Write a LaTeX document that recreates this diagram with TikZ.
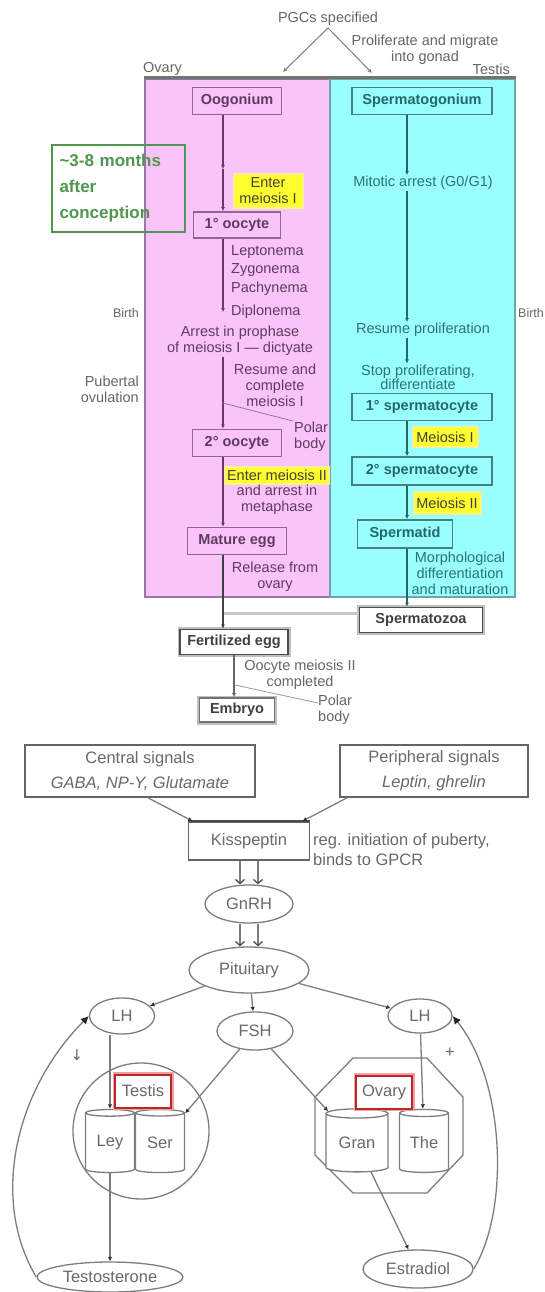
\documentclass[tikz,border=0pt]{standalone}
\usepackage{fontspec}
\setmainfont{Liberation Sans}
\newfontfamily\symfont{DejaVu Sans}
\usetikzlibrary{arrows.meta,shapes.geometric}

\definecolor{pinkbg}{RGB}{250,195,250}
\definecolor{cyanbg}{RGB}{153,255,255}
\definecolor{pinkedge}{RGB}{150,120,160}
\definecolor{cyanedge}{RGB}{110,165,165}
\definecolor{ooline}{RGB}{105,55,105}
\definecolor{ootext}{RGB}{95,60,95}
\definecolor{spline}{RGB}{35,105,105}
\definecolor{sptext}{RGB}{45,115,115}
\definecolor{hiyellow}{RGB}{255,255,45}
\definecolor{hihalo}{RGB}{250,240,150}
\definecolor{greenish}{RGB}{80,150,80}
\definecolor{axgray}{RGB}{125,125,125}
\definecolor{labgray}{RGB}{105,105,105}
\definecolor{redbox}{RGB}{185,40,40}
\definecolor{redhalo}{RGB}{240,160,160}

\newcommand{\topfont}{\fontsize{14.5}{16}\selectfont}
\newcommand{\lowfont}{\fontsize{16.5}{25}\selectfont}

\tikzset{
  note/.style={font=\topfont, text=black!60, inner sep=2pt},
  oonote/.style={font=\topfont, text=ootext, inner sep=1pt},
  spnote/.style={font=\topfont, text=sptext, inner sep=1pt},
  region/.style={minimum width=185pt, minimum height=518pt, line width=2.5pt},
  oobox/.style={draw=ooline!75, line width=1.8pt, font=\topfont\bfseries, text=ootext, inner sep=0pt},
  spbox/.style={draw=spline!85, line width=1.8pt, font=\topfont\bfseries, text=spline, inner sep=0pt},
  hilite/.style={fill=hiyellow, draw=hihalo, line width=2pt, font=\topfont, text=black!75, inner sep=0pt},
  plainbox/.style={draw=black!70, fill=white, line width=1.8pt, preaction={draw=black!25, line width=5pt}, font=\topfont\bfseries, text=black!75, inner sep=0pt},
  oospine/.style={->, draw=ooline, line width=1.6pt},
  spspine/.style={->, draw=spline, line width=1.6pt},
  signal/.style={draw=axgray, line width=1.3pt, -{Latex[length=4.5pt,width=4.5pt,color=black!80]}},
  twin/.style={draw=axgray, line width=1.3pt, -{Straight Barb[length=4pt,width=9pt,color=black!70]}},
  feedback/.style={draw=axgray, line width=1.3pt, -{Latex[length=8pt,width=8pt,color=black!85]}},
  hormone/.style={ellipse, draw=axgray, line width=1.3pt, fill=white, font=\lowfont, text=labgray, inner sep=0pt},
  sigbox/.style={draw=axgray!80!black, line width=1.6pt, fill=white, font=\lowfont, text=labgray, align=center, inner sep=0pt},
  cell/.style={cylinder, shape border rotate=90, aspect=0.25, draw=axgray, line width=1.3pt, fill=white, font=\lowfont, text=labgray, inner sep=0pt, minimum width=49pt, minimum height=63pt},
  organ/.style={draw=redbox, line width=2pt, fill=white, preaction={draw=redhalo, line width=5pt}, font=\lowfont, text=labgray, inner sep=0pt, minimum width=56pt, minimum height=33pt},
}

\begin{document}
\begin{tikzpicture}[x=1pt, y=-1pt, >={Latex[length=4pt,width=4pt]}]
  \useasboundingbox (0,0) rectangle (545,1292);
  \fill[white] (0,0) rectangle (545,1292);

  % gonads
  \node[region, draw=pinkedge, fill=pinkbg] (ovaryreg) at (237.5,338) {};
  \node[region, draw=cyanedge, fill=cyanbg] (testisreg) at (422.5,338) {};
  \draw[line width=2.5pt, black!55] (ovaryreg.north west) -- (testisreg.north east);

  \node[note] (pgc) at (328,19) {PGCs specified};
  \node[note, align=center] (migrate) at (425,50) {Proliferate and migrate\\into gonad};
  \node[note, anchor=west] (ovarylbl) at (141,69) {Ovary};
  \node[note, anchor=east] (testislbl) at (512,69) {Testis};
  \coordinate (ovaryin) at (283,72);
  \coordinate (testisin) at (372,73);
  \draw[->, axgray, line width=1pt] (pgc.south) -- (ovaryin);
  \draw[->, axgray, line width=1pt] (pgc.south) -- (testisin);

  % oocyte side
  \node[oobox, minimum width=89pt, minimum height=27pt] (oog) at (237,101) {Oogonium};
  \node[hilite, minimum width=69pt, minimum height=33pt, align=center] (enterI) at (268,191) {Enter\\meiosis I};
  \node[oobox, minimum width=87pt, minimum height=26pt] (oocI) at (237,225) {1° oocyte};
  \coordinate (oogmid) at (223,169);
  \draw[oospine] ([xshift=-14pt]oog.south) -- (oogmid);
  \draw[oospine] (oogmid) -- ([xshift=-14pt]oocI.north);

  \node[oonote, anchor=west] (lepto) at (230,252) {Leptonema};
  \node[oonote, anchor=west] (zygo) at (230,270) {Zygonema};
  \node[oonote, anchor=west] (pachy) at (230,289) {Pachynema};
  \node[oonote, anchor=west] (diplo) at (230,312) {Diplonema};
  \coordinate (diplomark) at (223,312);
  \draw[oospine] ([xshift=-14pt]oocI.south) -- (diplomark);

  \node[oonote, align=center] (arrest) at (240,341) {Arrest in prophase\\of meiosis I — dictyate};
  \node[oonote, align=center] (resume) at (275,385) {Resume and\\complete\\meiosis I};
  \node[oobox, minimum width=89pt, minimum height=27pt] (oocII) at (237,443) {2° oocyte};
  \draw[oospine] ([xshift=-17pt]arrest.south) -- ([xshift=-14pt]oocII.north);
  \node[oonote, anchor=west, align=left] (polarI) at (293,437) {Polar\\body};
  \coordinate (pbI) at (223,403);
  \draw[ootext!70, line width=0.8pt] (pbI) -- (polarI.north west);

  \node[hilite, minimum width=104pt, minimum height=17pt] (enterII) at (277,475) {Enter meiosis II};
  \node[oonote, align=center] (andarrest) at (277,500) {and arrest in\\metaphase};
  \node[oobox, minimum width=99pt, minimum height=27pt] (egg) at (237,541) {Mature egg};
  \draw[oospine] ([xshift=-14pt]oocII.south) -- ([xshift=-14pt]egg.north);
  \node[oonote, align=center] (release) at (275,577) {Release from\\ovary};

  % sperm side
  \node[spbox, minimum width=140pt, minimum height=27pt] (spg) at (422,101) {Spermatogonium};
  \node[spnote] (mitotic) at (423,183) {Mitotic arrest (G0/G1)};
  \draw[spspine] ([xshift=-15pt]spg.south) -- ([xshift=-16pt]mitotic.north);
  \node[spnote] (resprol) at (423,330) {Resume proliferation};
  \draw[spspine] ([xshift=-16pt]mitotic.south) -- ([xshift=-16pt]resprol.north);
  \node[spnote, align=center, font=\fontsize{14.5}{14}\selectfont] (stopprol) at (418,377) {Stop proliferating,\\differentiate};
  \draw[spspine] ([xshift=-16pt]resprol.south) -- ([xshift=-11pt]stopprol.north);
  \node[spbox, minimum width=140pt, minimum height=27pt] (spcI) at (422,407) {1° spermatocyte};
  \node[hilite, minimum width=65pt, minimum height=20pt] (meiI) at (445,437) {Meiosis I};
  \node[spbox, minimum width=140pt, minimum height=28pt] (spcII) at (422,471) {2° spermatocyte};
  \draw[spspine] ([xshift=-15pt]spcI.south) -- ([xshift=-15pt]spcII.north);
  \node[hilite, minimum width=67pt, minimum height=22pt] (meiII) at (447,503) {Meiosis II};
  \node[spbox, minimum width=95pt, minimum height=28pt] (spd) at (405,534) {Spermatid};
  \draw[spspine] ([xshift=-15pt]spcII.south) -- ([xshift=2pt]spd.north);
  \node[spnote, align=center] (morph) at (460,573) {Morphological\\differentiation\\and maturation};

  \node[note, anchor=east, font=\fontsize{12.5}{14}\selectfont] (birthL) at (141,313) {Birth};
  \node[note, anchor=west, inner sep=0pt, font=\fontsize{12.5}{14}\selectfont] (birthR) at (518,313) {Birth};
  \node[note, anchor=east, align=right] (pubertal) at (141,389) {Pubertal\\ovulation};

  % fertilization
  \node[plainbox, minimum width=123pt, minimum height=25pt] (spz) at (421,620) {Spermatozoa};
  \draw[spspine] ([xshift=2pt]spd.south) -- ([xshift=-14pt]spz.north);
  \coordinate (meet) at (223,613);
  \draw[black!22, line width=3pt] ([yshift=7pt]spz.west) -- (meet);
  \node[plainbox, minimum width=108pt, minimum height=25pt] (fert) at (234,642) {Fertilized egg};
  \draw[->, black!75, line width=1.6pt] ([xshift=-14pt]egg.south) -- ([xshift=-11pt]fert.north);
  \node[note, align=center] (completed) at (300,675) {Oocyte meiosis II\\completed};
  \node[plainbox, draw=black!55, minimum width=75pt, minimum height=24pt] (embryo) at (237,710) {Embryo};
  \draw[->, black!60, line width=1.6pt] (fert.south) -- (fert.south |- embryo.north);
  \node[note, anchor=west, align=left, inner sep=0pt] (polarII) at (318,710) {Polar\\body};
  \coordinate (pbII) at (235,685);
  \draw[black!40, line width=0.8pt] (pbII) -- ([yshift=7pt]polarII.west);

  \node[draw=greenish, line width=1.8pt, text=greenish, font=\fontsize{17}{26}\selectfont\bfseries, minimum width=133pt, minimum height=87pt, text width=118pt, align=left, inner sep=0pt] (months) at (118.5,188.5) {\textasciitilde3-8 months\\after\\conception};

  % hormonal axis
  \node[sigbox, minimum width=230pt, minimum height=52pt] (central) at (140,771) {Central signals\\\textit{GABA, NP-Y, Glutamate}};
  \node[sigbox, minimum width=188pt, minimum height=52pt] (peri) at (434,771) {Peripheral signals\\\textit{Leptin, ghrelin}};
  \node[sigbox, minimum width=121pt, minimum height=38pt] (kiss) at (249,841) {Kisspeptin};
  \draw[line width=2.4pt, black!70] (kiss.north west) -- (kiss.north east);
  \node[font=\fontsize{16.5}{20}\selectfont, text=labgray, anchor=west, align=left, inner sep=0pt] (kissnote) at (313,850) {reg. initiation of puberty,\\binds to GPCR};
  \draw[signal] ([xshift=8pt]central.south) -- ([xshift=5pt]kiss.north west);
  \draw[signal] ([xshift=-87pt]peri.south) -- ([xshift=-8pt]kiss.north east);

  \node[hormone, minimum width=88pt, minimum height=38pt] (gnrh) at (249,904) {GnRH};
  \node[hormone, minimum width=120pt, minimum height=46pt] (pit) at (249,970) {Pituitary};
  \draw[twin] ([xshift=-9pt]kiss.south) -- ([xshift=-9pt]gnrh.north);
  \draw[twin] ([xshift=9pt]kiss.south) -- ([xshift=9pt]gnrh.north);
  \draw[twin] ([xshift=-9pt]gnrh.south) -- ([xshift=-9pt]pit.north);
  \draw[twin] ([xshift=9pt]gnrh.south) -- ([xshift=9pt]pit.north);

  \node[hormone, minimum width=65pt, minimum height=36pt] (lhl) at (122,1016) {LH};
  \node[hormone, minimum width=76pt, minimum height=38pt] (fsh) at (255,1031) {FSH};
  \node[hormone, minimum width=64pt, minimum height=34pt] (lhr) at (420,1016) {LH};
  \draw[signal] (pit) -- (lhl);
  \draw[signal] (pit) -- (fsh);
  \draw[signal] (pit) -- (lhr);

  % testis and ovary
  \node[circle, draw=axgray, line width=1.3pt, minimum size=136pt] (testiscomp) at (141,1131) {};
  \draw[axgray, line width=1.3pt] (353,1058) -- (427,1058) -- (463,1097) -- (463,1155) -- (427,1193)
    -- (353,1193) -- (315,1155) -- (315,1097) -- cycle;
  \node[cell] (ley) at (110,1143) {Ley};
  \node[cell] (ser) at (160,1143) {Ser};
  \node[cell, minimum width=62pt] (gran) at (357,1143) {Gran};
  \node[cell] (the) at (424,1143) {The};
  \node[organ] (testis) at (143,1091) {Testis};
  \node[organ] (ovary) at (384,1092) {Ovary};

  \node[hormone, minimum width=146pt, minimum height=30pt] (testo) at (110,1277) {Testosterone};
  \node[hormone, minimum width=110pt, minimum height=38pt] (estr) at (418,1269) {Estradiol};

  \draw[signal] (lhl.south -| ley.north) -- (ley.north);
  \draw[signal] (ley.south) -- (testo.north);
  \draw[signal] (lhr) -- (the);
  \draw[signal] (fsh) -- (ser);
  \draw[signal] (fsh) -- (gran);
  \draw[signal] (gran) -- (estr);
  \draw[feedback] (testo.west) .. controls (-10,1200) and (15,1090) .. (lhl.west);
  \draw[feedback] (estr.east) .. controls (510,1210) and (505,1080) .. (lhr.east);
  \node[font=\symfont\fontsize{15}{15}\selectfont, text=labgray] (down) at (77,1055) {↓};
  \node[font=\lowfont, text=labgray] (up) at (450,1053) {+};
\end{tikzpicture}
\end{document}
